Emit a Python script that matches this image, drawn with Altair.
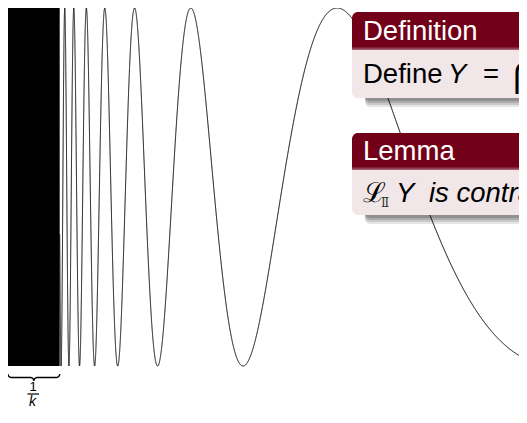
import numpy as np
import pandas as pd
import altair as alt

# ---- chart content -------------------------------------------------------
# Topologist's sine curve  y = sin(1/x), shown for 0 < x <= x_max;
# the part x < 1/k (k = 50) oscillates so fast that it is drawn solid.
x_max = 0.1977
k = 50
x_dense = 1.0 / k
u_step = 0.004                      # sampling step in 1/x

def_title = "Definition"
def_body = ["Define", "Y", "=", "\u22c2"]
lemma_title = "Lemma"
lemma_body = ["\u2112", "\u2161", "Y", "is contractible"]
frac_num = "1"
frac_den = "k"

# ---- layout (pixels) -----------------------------------------------------
W, H = 511, 401
CURVE_H = 358
y_lo = 1 - 2 * H / CURVE_H
FONT = "Liberation Sans"
HEAD = "#720019"
BODY = "#F1E6E8"

xs = alt.Scale(domain=[0, x_max], nice=False, zero=False)
ys = alt.Scale(domain=[y_lo, 1], nice=False, zero=False)

u = np.arange(1 / x_max, 1 / x_dense, u_step)
curve = pd.DataFrame({"x": 1 / u, "y": np.sin(u)})

block = pd.DataFrame({"x0": [0.0], "x1": [x_dense], "y0": [-1.0], "y1": [1.0]})

# brace under the solid block
px_per_x = W / x_max
bw = x_dense * px_per_x
r = 3.5
py0 = 366.0
th = np.linspace(0, np.pi / 2, 12)
left = list(zip(r - r * np.cos(th), py0 + r * np.sin(th)))
mid = list(zip(bw / 2 - r + r * np.sin(th), py0 + 2 * r - r * np.cos(th)))
half = left + mid
full = half + [(bw - px, py) for px, py in reversed(half)]
brace = pd.DataFrame({
    "x": [p[0] / px_per_x for p in full],
    "y": [1 - 2 * p[1] / CURVE_H for p in full],
    "i": list(range(len(full))),
})

one = pd.DataFrame({"a": [0]})

base_line = alt.Chart(curve).mark_line(color="black", strokeWidth=1, clip=True).encode(
    x=alt.X("x:Q", scale=xs, axis=None),
    y=alt.Y("y:Q", scale=ys, axis=None),
)
block_rect = alt.Chart(block).mark_rect(color="black").encode(
    x=alt.X("x0:Q", scale=xs, axis=None), x2="x1:Q",
    y=alt.Y("y0:Q", scale=ys, axis=None), y2="y1:Q",
)
brace_line = alt.Chart(brace).mark_line(color="black", strokeWidth=1.4).encode(
    x=alt.X("x:Q", scale=xs, axis=None),
    y=alt.Y("y:Q", scale=ys, axis=None),
    order="i:Q",
)


def rect(x1, x2, y1, y2, **kw):
    return alt.Chart(one).mark_rect(**kw).encode(
        x=alt.value(x1), x2=alt.value(x2), y=alt.value(y1), y2=alt.value(y2))


def txt(s, x, y, size, color="black", style="normal", align="left", font=FONT):
    return alt.Chart(one).mark_text(
        text=s, font=font, fontSize=size, color=color, fontStyle=style,
        align=align, baseline="alphabetic").encode(x=alt.value(x), y=alt.value(y))


layers = [block_rect, base_line, brace_line]

# fraction 1/k
layers += [
    txt(frac_num, 25, 383, 13, align="center"),
    alt.Chart(one).mark_rule(color="black", strokeWidth=1.2).encode(
        x=alt.value(19.5), x2=alt.value(31), y=alt.value(386)),
    txt(frac_den, 24.5, 398, 14, style="italic", align="center"),
]

# blocks
for top, hb, bot in [(4, 42, 90), (125, 162, 207)]:
    for d, op in [(9, 0.10), (7, 0.12), (5, 0.14), (3, 0.16)]:
        layers.append(rect(357, 700, bot - 20, bot + d, color="black", opacity=op,
                           cornerRadius=5))
    layers.append(rect(344, 700, top, hb, color=HEAD, cornerRadiusTopLeft=6))
    layers.append(rect(344, 700, hb, bot, color=BODY, cornerRadiusBottomLeft=6))
    layers.append(rect(344, 700, hb - 3, hb, color="#8a3348", opacity=0.6))
    layers.append(rect(344, 700, hb - 1.5, hb, color="#b98593", opacity=0.6))

layers += [
    txt(def_title, 355, 32, 27.5, color="white"),
    txt(def_body[0], 355, 75, 27.5),
    txt(def_body[1], 440, 75, 27.5, style="italic"),
    txt(def_body[2], 475, 75, 27.5),
    txt(def_body[3], 505, 79, 36),
    txt(lemma_title, 355, 152, 27.5, color="white"),
    txt(lemma_body[0], 355, 194, 27.5, font="DejaVu Serif"),
    txt(lemma_body[1], 373, 199, 12, font="DejaVu Serif", color="#333333"),
    txt(lemma_body[2], 388, 194, 27.5, style="italic"),
    txt(lemma_body[3], 421, 194, 27.5, style="italic"),
]

chart = alt.layer(*layers).properties(
    width=W, height=H, padding=0,
    autosize=alt.AutoSizeParams(type="none"),
).configure_view(stroke=None)

chart.save("out.html", embed_options={"renderer": "svg", "actions": False})
